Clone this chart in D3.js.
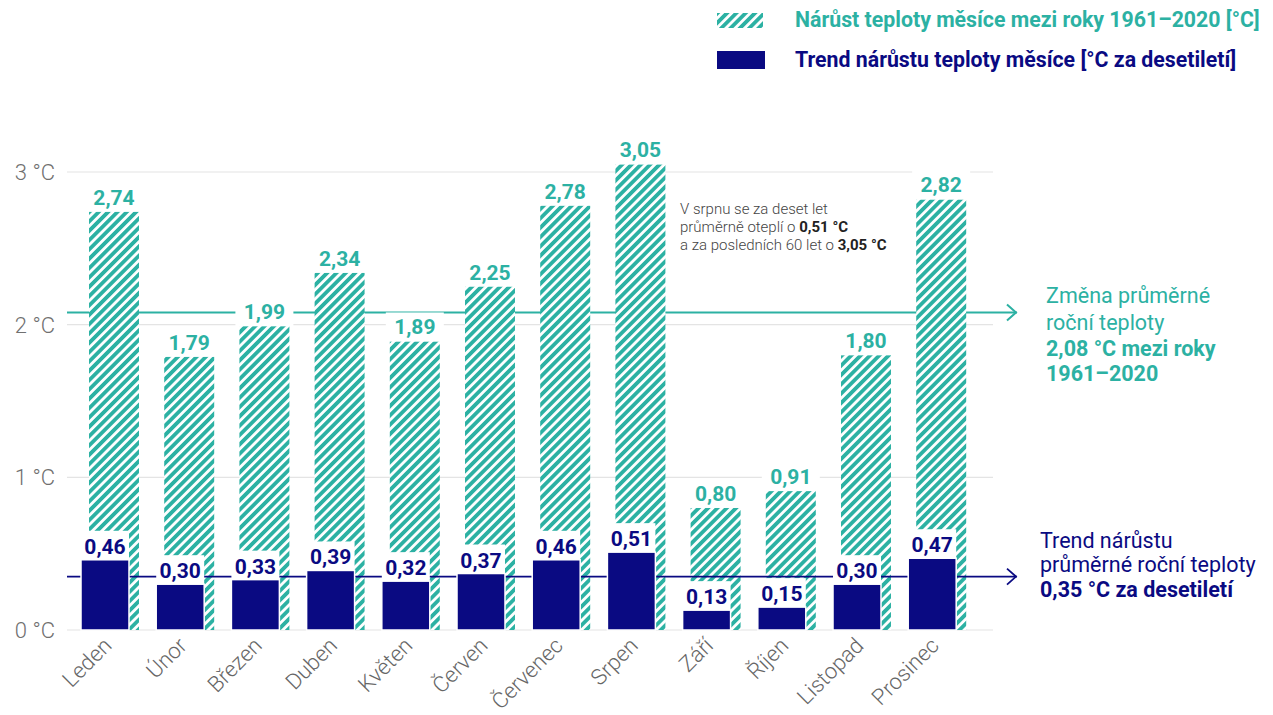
<!DOCTYPE html>
<html>
<head>
<meta charset="utf-8">
<script src="https://cdn.jsdelivr.net/npm/d3@7"></script>
<style>
  html, body { margin: 0; padding: 0; background: #fff; }
  svg { display: block; font-family: Roboto, "Noto Sans", sans-serif; }
</style>
</head>
<body>
<svg id="chart" width="1273" height="715"></svg>
<script>
// Monthly warming in Czechia, 1961–2020
const months = ["Leden", "Únor", "Březen", "Duben", "Květen", "Červen",
                "Červenec", "Srpen", "Září", "Říjen", "Listopad", "Prosinec"];
const change = [2.74, 1.79, 1.99, 2.34, 1.89, 2.25, 2.78, 3.05, 0.80, 0.91, 1.80, 2.82];
const trend  = [0.46, 0.30, 0.33, 0.39, 0.32, 0.37, 0.46, 0.51, 0.13, 0.15, 0.30, 0.47];
const yTicks = [0, 1, 2, 3];
const annualChange = 2.08;
const annualTrend = 0.35;

const TEAL = "#2cb1a3";
const NAVY = "#0a0a82";
const fmt = v => d3.format(".2f")(v).replace(".", ",");

const svg = d3.select("#chart");

const x = d3.scaleBand()
  .domain(months)
  .range([72.4, 974.8])
  .paddingInner(0.229)
  .paddingOuter(0.1145);
const y = d3.scaleLinear().domain([0, 3]).range([630, 172]);

const bw = x.bandwidth();
const hatchOff = 8, hatchW = bw - 8, navyW = bw - 10;

// hatch pattern
const defs = svg.append("defs");
const pat = defs.append("pattern")
  .attr("id", "hatch")
  .attr("patternUnits", "userSpaceOnUse")
  .attr("width", 6.6).attr("height", 6.6)
  .attr("patternTransform", "rotate(45)");
pat.append("rect").attr("width", 6.6).attr("height", 6.6).attr("fill", "#fff");
pat.append("rect").attr("x", 0).attr("width", 3.8).attr("height", 6.6).attr("fill", TEAL);

// grid + y axis
const grid = svg.append("g");
grid.selectAll("line").data(yTicks).join("line")
  .attr("x1", 67).attr("x2", 993)
  .attr("y1", d => y(d)).attr("y2", d => y(d))
  .attr("stroke", "#e4e4e4").attr("stroke-width", 1.2);
grid.selectAll("text").data(yTicks).join("text")
  .attr("x", 55).attr("y", d => y(d) + 8)
  .attr("text-anchor", "end")
  .attr("font-size", 22).attr("font-weight", 300).attr("fill", "#707070")
  .text(d => d + " °C");

// reference lines with arrowheads
function refLine(v, color, width) {
  const yy = y(v);
  svg.append("line")
    .attr("x1", 67).attr("x2", 1017).attr("y1", yy).attr("y2", yy)
    .attr("stroke", color).attr("stroke-width", width);
  svg.append("path")
    .attr("d", `M1007,${yy - 8} L1016,${yy} L1007,${yy + 8}`)
    .attr("fill", "none").attr("stroke", color).attr("stroke-width", width);
}
refLine(annualChange, TEAL, 2);

// hatched bars: total change
svg.append("g").selectAll("rect").data(months).join("rect")
  .attr("x", (d) => x(d) + hatchOff)
  .attr("width", hatchW)
  .attr("y", (d, i) => y(change[i]))
  .attr("height", (d, i) => y(0) - y(change[i]))
  .attr("fill", "url(#hatch)");

// change labels
const cl = svg.append("g");
cl.selectAll("rect").data(months).join("rect")
  .attr("x", d => x(d) + hatchOff + hatchW / 2 - 29)
  .attr("width", 58)
  .attr("y", (d, i) => y(change[i]) - 29)
  .attr("height", 29)
  .attr("fill", "#fff");
cl.selectAll("text").data(months).join("text")
  .attr("x", d => x(d) + hatchOff + hatchW / 2)
  .attr("y", (d, i) => y(change[i]) - 7)
  .attr("text-anchor", "middle")
  .attr("font-size", 21).attr("font-weight", 700).attr("fill", TEAL)
  .text((d, i) => fmt(change[i]));

// annual trend line
refLine(annualTrend, NAVY, 1.8);

// trend bars
const tb = svg.append("g");
tb.selectAll("rect.bg").data(months).join("rect")
  .attr("class", "bg")
  .attr("x", d => x(d))
  .attr("width", navyW)
  .attr("y", (d, i) => y(trend[i]) - 29)
  .attr("height", 29)
  .attr("fill", "#fff");
tb.selectAll("rect.bar").data(months).join("rect")
  .attr("class", "bar")
  .attr("x", d => x(d))
  .attr("width", navyW)
  .attr("y", (d, i) => y(trend[i]))
  .attr("height", (d, i) => y(0) - y(trend[i]))
  .attr("fill", NAVY)
  .attr("stroke", "#fff").attr("stroke-width", 1.5);
tb.selectAll("text").data(months).join("text")
  .attr("x", d => x(d) + navyW / 2)
  .attr("y", (d, i) => y(trend[i]) - 6)
  .attr("text-anchor", "middle")
  .attr("font-size", 21).attr("font-weight", 700).attr("fill", NAVY)
  .text((d, i) => fmt(trend[i]));

// month labels
svg.append("g").selectAll("text").data(months).join("text")
  .attr("transform", d => `translate(${x(d) + bw / 2 + 3},${647}) rotate(-45)`)
  .attr("text-anchor", "end")
  .attr("font-size", 22).attr("font-weight", 300).attr("fill", "#666")
  .text(d => d);

// note on August
const note = svg.append("text")
  .attr("x", 680).attr("font-size", 15).attr("font-weight", 300).attr("fill", "#444");
note.append("tspan").attr("x", 680).attr("y", 214).text("V srpnu se za deset let");
const n2 = note.append("tspan").attr("x", 680).attr("y", 232);
n2.append("tspan").text("průměrně oteplí o ");
n2.append("tspan").attr("font-weight", 700).attr("fill", "#222").text("0,51 °C");
const n3 = note.append("tspan").attr("x", 680).attr("y", 250);
n3.append("tspan").text("a za posledních 60 let o ");
n3.append("tspan").attr("font-weight", 700).attr("fill", "#222").text("3,05 °C");

// right-hand annotations
function block(xx, lines, color) {
  const t = svg.append("text").attr("font-size", 21.5).attr("fill", color);
  lines.forEach(([txt, yy, w]) => {
    t.append("tspan").attr("x", xx).attr("y", yy).attr("font-weight", w).text(txt);
  });
}
block(1046, [["Změna průměrné", 303, 400], ["roční teploty", 330, 400],
             ["2,08 °C mezi roky", 356, 700], ["1961–2020", 381, 700]], TEAL);
block(1040, [["Trend nárůstu", 548, 400], ["průměrné roční teploty", 572, 400],
             ["0,35 °C za desetiletí", 597, 700]], NAVY);

// legend
const lg = svg.append("g");
lg.append("rect").attr("x", 717).attr("y", 13).attr("width", 46).attr("height", 15).attr("fill", "url(#hatch)");
lg.append("rect").attr("x", 717).attr("y", 51).attr("width", 48).attr("height", 18).attr("fill", NAVY);
lg.append("text").attr("x", 795).attr("y", 27)
  .attr("font-size", 21.3).attr("font-weight", 700).attr("fill", TEAL)
  .text("Nárůst teploty měsíce mezi roky 1961–2020 [°C]");
lg.append("text").attr("x", 795).attr("y", 67)
  .attr("font-size", 21.3).attr("font-weight", 700).attr("fill", NAVY)
  .text("Trend nárůstu teploty měsíce [°C za desetiletí]");
</script>
</body>
</html>
